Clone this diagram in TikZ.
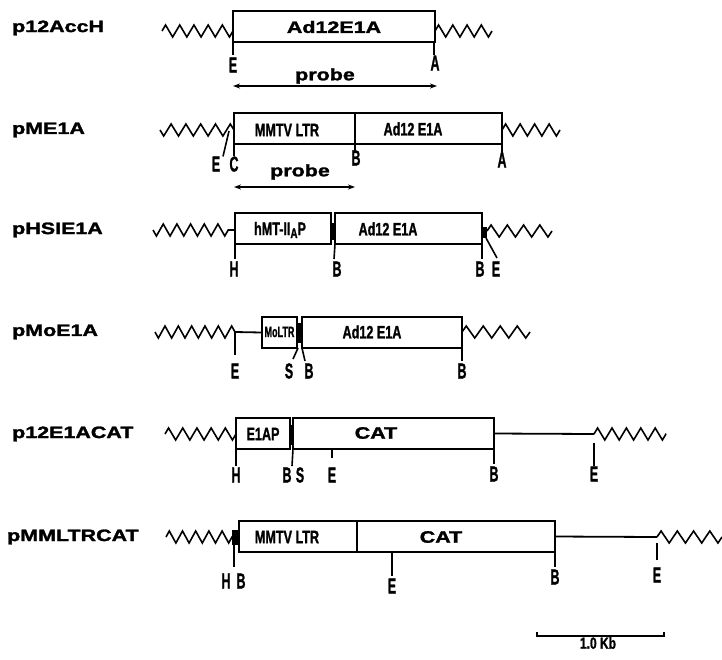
\documentclass[tikz,border=0pt]{standalone}
\usepackage{fontspec}
\setmainfont{Liberation Sans}[BoldFeatures={FakeBold=1.6}]
\usepackage{graphicx}
\usetikzlibrary{arrows.meta,decorations.pathmorphing}

% wide bold lettering (construct names, probe, CAT)
\newcommand\wb[1]{\scalebox{1.3}[1]{\fontsize{16.5}{17}\selectfont\bfseries #1}}
% tall condensed restriction-site letters
\newcommand\cb[1]{\scalebox{0.58}[1]{\fontsize{21.5}{21}\selectfont\bfseries #1}}
% condensed lettering inside the boxes
\newcommand\ib[1]{\scalebox{0.7}[1]{\fontsize{18}{18}\selectfont\bfseries #1}}

\tikzset{
  seg/.style={draw, line width=1.9pt, inner sep=0pt, outer sep=0pt,
              anchor=north west, minimum height=31pt},
  wire/.style={line width=1.8pt},
  zig/.style={line width=1.6pt, decorate,
              decoration={zigzag, amplitude=6pt, segment length=#1}},
  zigm/.style={zig=#1, decoration={mirror}},
  tickln/.style={line width=1.6pt},
  site/.style={inner sep=0pt},
  rowlabel/.style={anchor=west, inner sep=0pt},
  blob/.style={fill=black, inner sep=0pt, outer sep=0pt},
  probearrow/.style={line width=1.4pt,
              {Stealth[length=7pt,width=5pt]}-{Stealth[length=7pt,width=5pt]}},
}

\begin{document}
\begin{tikzpicture}[x=1pt,y=-1pt]
\useasboundingbox (0,0) rectangle (722,659);

% ---------- p12AccH ----------
\node[rowlabel] (n1) at (12,28) {\wb{p12AccH}};
\coordinate (z1a) at (162,31); \coordinate (z1b) at (233,31);
\draw[zig=14.2pt] (z1a) -- (z1b);
\node[seg, minimum width=202pt] (b1) at (233,11) {};
\node (t1) at (334,27) {\wb{Ad12E1A}};
\coordinate (z1c) at (435,31); \coordinate (z1d) at (492,31);
\draw[zig=14.25pt] (z1c) -- (z1d);
\node[site] (e1) at (233,65) {\cb{E}};
\node[site] (a1) at (435,63) {\cb{A}};
\draw[tickln] (b1.south west) -- ++(0,13);
\draw[tickln] ([xshift=-1pt]b1.south east) -- ++(0,13);
\node (p1) at (325,76) {\wb{probe}};
\coordinate (r1a) at (233,86); \coordinate (r1b) at (437,86);
\draw[probearrow] (r1a) -- (r1b);

% ---------- pME1A ----------
\node[rowlabel] (n2) at (12,130) {\wb{pME1A}};
\coordinate (z2a) at (160,130); \coordinate (z2b) at (234,130);
\draw[zigm=14.8pt] (z2a) -- (z2b);
\node[seg, minimum width=121pt] (b2a) at (234,113) {};
\node[seg, minimum width=147pt] (b2b) at (355,113) {};
\node (t2a) at (287,130) {\ib{MMTV LTR}};
\node (t2b) at (413,129) {\ib{Ad12 E1A}};
\coordinate (z2c) at (502,130); \coordinate (z2d) at (560,130);
\draw[zig=14.5pt] (z2c) -- (z2d);
\node[site] (e2) at (216,164) {\cb{E}};
\node[site] (c2) at (234,164) {\cb{C}};
\node[site] (b2l) at (356,158) {\cb{B}};
\node[site] (a2) at (502,160) {\cb{A}};
\draw[tickln] (229,131) -- (e2.north -| 223,0);
\draw[tickln] (b2a.south west) -- ++(0,12);
\draw[tickln] (b2a.south east) -- ++(0,8);
\draw[tickln] (b2b.south east) -- ++(0,9);
\node (p2) at (300,172) {\wb{probe}};
\coordinate (r2a) at (234,187); \coordinate (r2b) at (355,187);
\draw[probearrow] (r2a) -- (r2b);

% ---------- pHSIE1A ----------
\node[rowlabel] (n3) at (12,230) {\wb{pHSIE1A}};
\coordinate (z3a) at (153,230); \coordinate (z3b) at (235,230);
\draw[zigm=13.67pt] (z3a) -- (z3b);
\node[seg, minimum width=96pt] (b3a) at (235,213) {};
\node[seg, minimum width=147pt] (b3b) at (335,213) {};
\node[blob, minimum width=4pt, minimum height=17pt] (k3a) at (333,231) {};
\node[blob, minimum width=5pt, minimum height=11pt] (k3b) at (484.5,232) {};
\node (t3a) at (280,230) {\ib{hMT-II\raisebox{-3pt}{\fontsize{14}{14}\selectfont A}P}};
\node (t3b) at (388,229) {\ib{Ad12 E1A}};
\coordinate (z3c) at (487,231); \coordinate (z3d) at (552,231);
\draw[zig=16.25pt] (z3c) -- (z3d);
\node[site] (h3) at (234,269) {\cb{H}};
\node[site] (b3l) at (337,269) {\cb{B}};
\node[site] (b3r) at (480,269) {\cb{B}};
\node[site] (e3) at (496,269) {\cb{E}};
\draw[tickln] (b3a.south west) -- ++(0,15);
\draw[tickln] (b3b.south west) -- ++(-1,15);
\draw[tickln] (b3b.south east) -- ++(0,15);
\draw[tickln] (486,238) -- (497,258);

% ---------- pMoE1A ----------
\node[rowlabel] (n4) at (12,332) {\wb{pMoE1A}};
\coordinate (z4a) at (155,332); \coordinate (z4b) at (235,332);
\draw[zigm=13.33pt] (z4a) -- (z4b);
\node[seg, minimum width=35pt] (b4a) at (262,317) {};
\draw[wire] (z4b) -- (b4a.west);
\node[blob, minimum width=5pt, minimum height=20pt] (k4) at (299.5,333) {};
\node[seg, minimum width=160pt] (b4b) at (302,317) {};
\node (t4a) at (279.5,332) {\scalebox{0.6}[1]{\fontsize{15}{15}\selectfont\bfseries MoLTR}};
\node (t4b) at (372,332) {\ib{Ad12 E1A}};
\coordinate (z4c) at (462,332); \coordinate (z4d) at (530,332);
\draw[zig=17pt] (z4c) -- (z4d);
\node[site] (e4) at (235,371) {\cb{E}};
\node[site] (s4) at (289,371) {\cb{S}};
\node[site] (b4l) at (309,371) {\cb{B}};
\node[site] (b4r) at (462,371) {\cb{B}};
\draw[tickln] (z4b) -- ++(0,23);
\draw[tickln] (298,348) -- (293,359);
\draw[tickln] (b4b.south west) -- ++(3,13);
\draw[tickln] (b4b.south east) -- ++(0,13);

% ---------- p12E1ACAT ----------
\node[rowlabel] (n5) at (12,434) {\wb{p12E1ACAT}};
\coordinate (z5a) at (165,434); \coordinate (z5b) at (236,434);
\draw[zig=14.2pt] (z5a) -- (z5b);
\node[seg, minimum width=54pt] (b5a) at (236,418) {};
\node[blob, minimum width=3pt, minimum height=20pt] (k5) at (291.5,435) {};
\node[seg, minimum width=201pt] (b5b) at (293,418) {};
\node (t5a) at (263,434) {\ib{E1AP}};
\node (t5b) at (376,433) {\wb{CAT}};
\coordinate (z5c) at (594,434); \coordinate (z5d) at (666,434);
\draw[wire] (b5b.east) -- (z5c);
\draw[zig=14.4pt] (z5c) -- (z5d);
\node[site] (h5) at (236,475) {\cb{H}};
\node[site] (b5l) at (287,475) {\cb{B}};
\node[site] (s5) at (300,475) {\cb{S}};
\node[site] (e5a) at (332,475) {\cb{E}};
\node[site] (b5r) at (494,474) {\cb{B}};
\node[site] (e5b) at (594,474) {\cb{E}};
\draw[tickln] (b5a.south west) -- ++(0,17);
\draw[tickln] (b5b.south west) -- ++(-1,17);
\draw[tickln] (332,450) -- (332,458);
\draw[tickln] (b5b.south east) -- ++(0,15);
\draw[tickln] (594,443) -- (e5b.north);

% ---------- pMMLTRCAT ----------
\node[rowlabel] (n6) at (7,537) {\wb{pMMLTRCAT}};
\coordinate (z6a) at (166,537); \coordinate (z6b) at (232,537);
\draw[zig=13.2pt] (z6a) -- (z6b);
\node[blob, minimum width=6pt, minimum height=15pt] (k6) at (235,537) {};
\node[seg, minimum width=118pt] (b6a) at (239,521) {};
\node[seg, minimum width=198pt] (b6b) at (357,521) {};
\node (t6a) at (287,537) {\ib{MMTV LTR}};
\node (t6b) at (441,537) {\wb{CAT}};
\coordinate (z6c) at (657,537); \coordinate (z6d) at (722,537);
\draw[wire] (b6b.east) -- (z6c);
\draw[zig=16.25pt] (z6c) -- (z6d);
\node[site] (h6) at (226,581) {\cb{H}};
\node[site] (b6l) at (241,581) {\cb{B}};
\node[site] (e6a) at (392,586) {\cb{E}};
\node[site] (b6r) at (555,577) {\cb{B}};
\node[site] (e6b) at (657,575) {\cb{E}};
\draw[tickln] (k6.south -| 234,0) -- ++(0,22);
\draw[tickln] (392,552) -- (392,576);
\draw[tickln] (b6b.south east) -- ++(0,15);
\draw[tickln] (657,543) -- (657,560);

% ---------- scale bar ----------
\coordinate (s1) at (537,632); \coordinate (s2) at (664,632);
\draw[line width=1.5pt] (s1) -- ++(0,4) -- ([yshift=-4pt]s2) -- (s2);
\node (kb) at (598,643) {\scalebox{0.75}[1]{\fontsize{16}{16}\selectfont\bfseries 1.0 Kb}};
\end{tikzpicture}
\end{document}
